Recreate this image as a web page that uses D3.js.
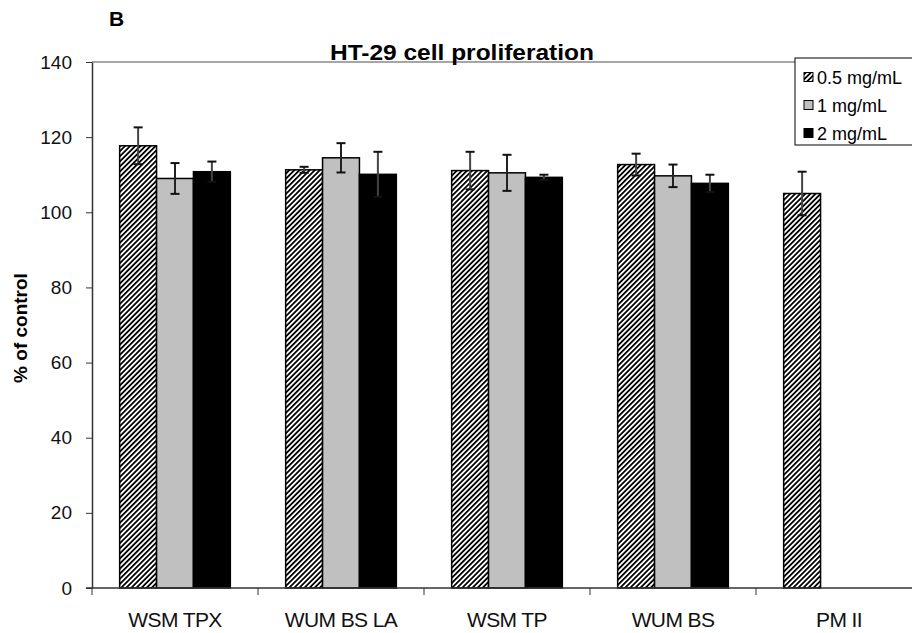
<!DOCTYPE html>
<head>
<meta charset="utf-8">
<script src="https://d3js.org/d3.v7.min.js"></script>
<style>
    body { margin: 0; background: #fff; }
    svg { font-family: Arial, "Liberation Sans", sans-serif; }
    .axis path, .axis line { stroke: #333; }
    .axis text { font-size: 19px; fill: #111; }
    .xlab { font-size: 21px; letter-spacing: -0.6px; fill: #111; }
</style>
</head>
<body>
<script>
var categories = ["WSM TPX", "WUM BS LA", "WSM TP", "WUM BS", "PM II"];
var series = ["0.5 mg/mL", "1 mg/mL", "2 mg/mL"];
var dose05 = [117.7, 111.3, 111.1, 112.7, 105.0];
var dose05Err = [4.9, 0.8, 5.0, 2.9, 5.8];
var dose1 = [109.0, 114.5, 110.5, 109.7, null];
var dose1Err = [4.1, 3.9, 4.8, 3.0, null];
var dose2 = [110.8, 110.1, 109.3, 107.7, null];
var dose2Err = [2.7, 6.0, 0.7, 2.3, null];
var yTicks = [0, 20, 40, 60, 80, 100, 120, 140];

var width = 912, height = 633;
var plotLeft = 92, plotRight = 922, plotTop = 62, plotBottom = 588;

var svg = d3.select("body").append("svg")
    .attr("width", width)
    .attr("height", height);

var defs = svg.append("defs");
var hatch = defs.append("pattern")
    .attr("id", "hatch")
    .attr("patternUnits", "userSpaceOnUse")
    .attr("width", 3.6)
    .attr("height", 3.6)
    .attr("patternTransform", "rotate(45)");
hatch.append("rect").attr("width", 3.6).attr("height", 3.6).attr("fill", "#fff");
hatch.append("rect").attr("x", 0).attr("width", 1.8).attr("height", 3.6).attr("fill", "#000");

var x = d3.scaleBand()
    .domain(categories)
    .range([plotLeft, plotRight])
    .paddingInner(0)
    .paddingOuter(0);

var xs = d3.scaleBand()
    .domain(series)
    .range([0, x.bandwidth()])
    .paddingOuter(0.75)
    .paddingInner(0);

var y = d3.scaleLinear()
    .domain([0, 140])
    .range([plotBottom, plotTop]);

var fills = ["url(#hatch)", "#c0c0c0", "#000"];

var rows = [];
var vals = [dose05, dose1, dose2];
var errs = [dose05Err, dose1Err, dose2Err];
categories.forEach(function(c, i) {
    series.forEach(function(s, j) {
        if (vals[j][i] != null) {
            rows.push({cat: c, ser: s, j: j, v: vals[j][i], e: errs[j][i]});
        }
    });
});

// plot frame top
svg.append("line")
    .attr("x1", plotLeft).attr("x2", plotRight)
    .attr("y1", plotTop).attr("y2", plotTop)
    .attr("stroke", "#888").attr("stroke-width", 1.5);

// y axis
svg.append("g")
    .attr("class", "axis")
    .attr("transform", "translate(" + plotLeft + ",0)")
    .call(d3.axisLeft(y).tickValues(yTicks).tickSize(6).tickPadding(14).tickSizeOuter(0))
    .call(function(g) { g.select(".domain").attr("stroke-width", 1.5); });

// bars
svg.append("g").selectAll("rect")
    .data(rows)
    .enter().append("rect")
    .attr("x", function(d) { return x(d.cat) + xs(d.ser); })
    .attr("y", function(d) { return y(d.v); })
    .attr("width", xs.bandwidth())
    .attr("height", function(d) { return y(0) - y(d.v); })
    .attr("fill", function(d) { return fills[d.j]; })
    .attr("stroke", "#000")
    .attr("stroke-width", 1.5);

// error bars
var eb = svg.append("g").selectAll("g")
    .data(rows)
    .enter().append("g")
    .attr("stroke", "#111")
    .attr("stroke-width", 2);
function cx(d) { return x(d.cat) + xs(d.ser) + xs.bandwidth() / 2; }
eb.append("line")
    .attr("x1", cx).attr("x2", cx)
    .attr("y1", function(d) { return y(d.v + d.e); })
    .attr("y2", function(d) { return y(d.v - d.e); })
    .attr("stroke", function(d) { return d.j === 1 ? "#222" : "#444"; });
eb.append("line")
    .attr("x1", function(d) { return cx(d) - 4.5; })
    .attr("x2", function(d) { return cx(d) + 4.5; })
    .attr("y1", function(d) { return y(d.v + d.e); })
    .attr("y2", function(d) { return y(d.v + d.e); });
eb.append("line")
    .attr("x1", function(d) { return cx(d) - 4.5; })
    .attr("x2", function(d) { return cx(d) + 4.5; })
    .attr("y1", function(d) { return y(d.v - d.e); })
    .attr("y2", function(d) { return y(d.v - d.e); });

// x axis
svg.append("g")
    .attr("class", "axis")
    .attr("transform", "translate(0," + plotBottom + ")")
    .call(function(g) {
        g.append("line").attr("x1", plotLeft - 6).attr("x2", plotRight)
            .attr("stroke", "#333").attr("stroke-width", 1.5);
        g.selectAll(".tk")
            .data(categories)
            .enter().append("line")
            .attr("class", "tk")
            .attr("x1", function(d) { return x(d); })
            .attr("x2", function(d) { return x(d); })
            .attr("y1", 0).attr("y2", 7)
            .attr("stroke", "#333");
    });

svg.append("g").selectAll("text")
    .data(categories)
    .enter().append("text")
    .attr("class", "xlab")
    .attr("x", function(d) { return x(d) + x.bandwidth() / 2; })
    .attr("y", 627)
    .attr("text-anchor", "middle")
    .text(function(d) { return d; });

// title, panel letter, y label
svg.append("text")
    .attr("x", 462).attr("y", 60)
    .attr("text-anchor", "middle")
    .attr("font-size", 22).attr("font-weight", "bold")
    .attr("textLength", 264)
    .attr("lengthAdjust", "spacingAndGlyphs")
    .text("HT-29 cell proliferation");

svg.append("text")
    .attr("x", 109).attr("y", 26)
    .attr("font-size", 21).attr("font-weight", "bold")
    .text("B");

svg.append("text")
    .attr("transform", "translate(27,328) rotate(-90)")
    .attr("text-anchor", "middle")
    .attr("font-size", 19).attr("font-weight", "bold")
    .text("% of control");

// legend
var lg = svg.append("g").attr("transform", "translate(795,58)");
lg.append("rect")
    .attr("width", 130).attr("height", 87)
    .attr("fill", "#fff").attr("stroke", "#000").attr("stroke-width", 1);
var li = lg.selectAll(".li")
    .data(series)
    .enter().append("g")
    .attr("class", "li")
    .attr("transform", function(d, i) { return "translate(0," + (19 + i * 28) + ")"; });
li.append("rect")
    .attr("x", 9).attr("y", -4.5)
    .attr("width", 9).attr("height", 9)
    .attr("fill", function(d, i) { return fills[i]; })
    .attr("stroke", "#000").attr("stroke-width", 1);
li.append("text")
    .attr("x", 22).attr("y", 6.5)
    .attr("font-size", 18)
    .text(function(d) { return d; });
</script>
</body>
